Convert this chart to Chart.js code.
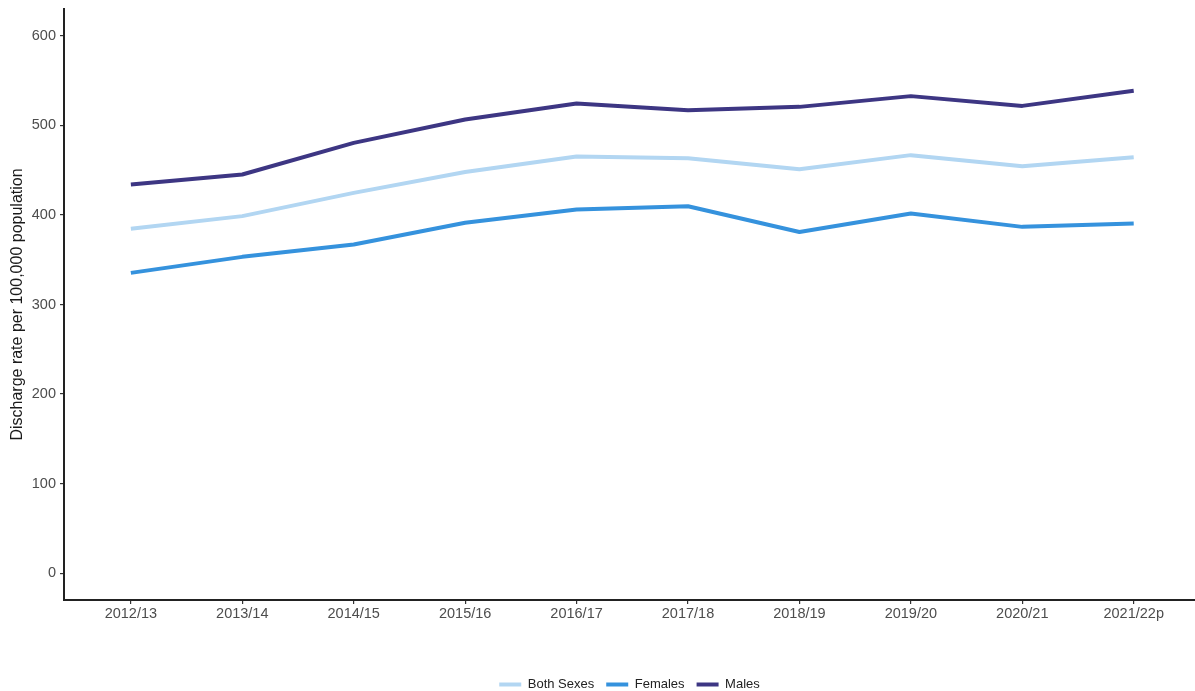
<!DOCTYPE html>
<html lang="en">
<head>
<meta charset="UTF-8">
<title>Discharge rate per 100,000 population</title>
<script src="https://cdn.jsdelivr.net/npm/chart.js"></script>
<style>
  html, body { margin: 0; padding: 0; background: #fff; overflow: hidden; }
</style>
</head>
<body>
<canvas id="chart" width="1195" height="691"></canvas>
<script>
const years = ["2012/13", "2013/14", "2014/15", "2015/16", "2016/17", "2017/18", "2018/19", "2019/20", "2020/21", "2021/22p"];
const bothSexes = [384.5, 398.7, 424.7, 448.0, 465.3, 463.4, 451.0, 466.8, 454.5, 464.5];
const females = [335.3, 353.2, 367.0, 391.2, 406.0, 409.8, 381.0, 401.7, 386.7, 390.5];
const males = [434.0, 445.2, 480.5, 506.6, 524.5, 517.0, 520.7, 532.7, 521.8, 538.6];
const yTicks = [0, 100, 200, 300, 400, 500, 600];

const FONT = "'Liberation Sans', Arial, sans-serif";

function toPoints(values) {
  return values.map((v, i) => ({ x: i, y: v }));
}

function makeSet(label, values, color) {
  return {
    label: label,
    data: toPoints(values),
    borderColor: color,
    backgroundColor: color,
    borderWidth: 4,
    pointRadius: 0,
    pointHoverRadius: 0,
    fill: false,
    tension: 0,
    borderJoinStyle: "round",
    borderCapStyle: "butt"
  };
}

new Chart(document.getElementById("chart"), {
  type: "line",
  data: {
    datasets: [
      makeSet("Both Sexes", bothSexes, "#b2d6f2"),
      makeSet("Females", females, "#3592dd"),
      makeSet("Males", males, "#3d3683")
    ]
  },
  options: {
    responsive: false,
    animation: false,
    layout: { padding: { top: 9, right: 0, bottom: -10, left: 0 } },
    plugins: {
      tooltip: { enabled: false },
      legend: {
        position: "bottom",
        fullSize: false,
        labels: {
          boxWidth: 22,
          boxHeight: 4,
          padding: 12,
          color: "#222",
          font: { family: FONT, size: 13 },
          // keep the key a thin bar, not the thick dataset stroke
          generateLabels: chart => Chart.defaults.plugins.legend.labels.generateLabels(chart)
            .map(item => Object.assign(item, { lineWidth: 0 }))
        }
      }
    },
    scales: {
      x: {
        type: "linear",
        min: -0.6,
        max: 9.55,
        afterBuildTicks: s => { s.ticks = years.map((_, i) => ({ value: i })); },
        afterFit: s => { s.height = 66; s.paddingLeft = 0; s.paddingRight = 0; },
        ticks: {
          callback: v => years[v],
          color: "#4d4d4d",
          font: { family: FONT, size: 14.5 },
          padding: 1,
          autoSkip: false,
          maxRotation: 0
        },
        grid: { drawOnChartArea: false, drawTicks: true, tickLength: 4, color: "#333", lineWidth: 1.2 },
        border: { color: "#222", width: 2 }
      },
      y: {
        min: -30,
        max: 630,
        afterBuildTicks: s => { s.ticks = yTicks.map(v => ({ value: v })); },
        afterFit: s => { s.width = 64; s.paddingTop = 0; s.paddingBottom = 0; },
        ticks: {
          color: "#4d4d4d",
          font: { family: FONT, size: 14.5 },
          padding: 4
        },
        title: {
          display: true,
          text: "Discharge rate per 100,000 population",
          color: "#1a1a1a",
          font: { family: FONT, size: 16 },
          padding: { top: 8, bottom: 0 }
        },
        grid: { drawOnChartArea: false, drawTicks: true, tickLength: 4, color: "#333", lineWidth: 1.2 },
        border: { color: "#222", width: 2 }
      }
    }
  }
});
</script>
</body>
</html>
